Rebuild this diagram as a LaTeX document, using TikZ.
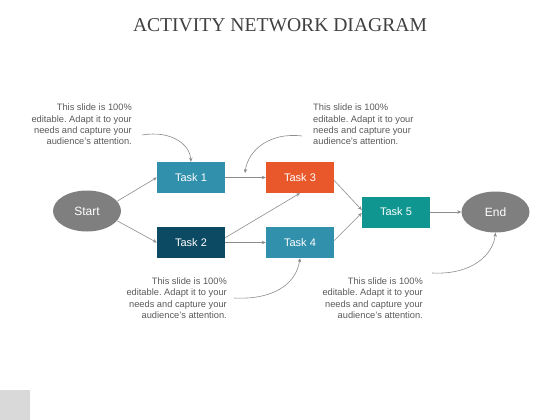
\documentclass[tikz,border=0pt]{standalone}
\usepackage{fontspec}
\setmainfont{Liberation Sans}
\newfontfamily\titlefont{Liberation Serif}
\usetikzlibrary{arrows.meta,shapes.geometric}
\frenchspacing
\definecolor{titlegray}{HTML}{404040}
\definecolor{notegray}{HTML}{595959}
\definecolor{linegray}{HTML}{8C8C8C}
\definecolor{ovalgray}{HTML}{7F7F7F}
\definecolor{taskblue}{HTML}{3190AC}
\definecolor{tasknavy}{HTML}{0C4A63}
\definecolor{taskorange}{HTML}{E8582A}
\definecolor{taskteal}{HTML}{0F9690}
\definecolor{cornergray}{HTML}{D9D9D9}
\tikzset{
  taskbox/.style={rectangle, minimum width=68pt, minimum height=31pt, inner sep=0pt, text=white, font=\fontsize{11}{13}\selectfont},
  oval/.style={ellipse, fill=ovalgray, minimum width=68pt, minimum height=41pt, inner sep=0pt, text=white, font=\fontsize{12}{14}\selectfont},
  conn/.style={draw=linegray, line width=0.6pt, -{Stealth[length=4pt,width=3.5pt]}},
  note/.style={text=notegray, font=\fontsize{9.3}{11.3}\selectfont, inner sep=0pt},
}
\begin{document}
\begin{tikzpicture}[x=1pt,y=-1pt]
\useasboundingbox (0,0) rectangle (560,420);
\fill[cornergray] (0,390) rectangle (30,420);
\node[text=titlegray, font=\titlefont\fontsize{19.6}{22}\selectfont] (title) at (280,25.5) {ACTIVITY NETWORK DIAGRAM};

\node[oval] (start) at (87,211) {Start};
\node[oval] (end) at (495.5,212) {End};
\node[taskbox, fill=taskblue] (t1) at (191,177.5) {Task 1};
\node[taskbox, fill=tasknavy] (t2) at (191,242.5) {Task 2};
\node[taskbox, fill=taskorange] (t3) at (300,177.5) {Task 3};
\node[taskbox, fill=taskblue] (t4) at (300,242.5) {Task 4};
\node[taskbox, fill=taskteal] (t5) at (396,212) {Task 5};

\node[note, align=right, anchor=north east] (n1) at (132,104) {This slide is 100\%\\editable. Adapt it to your\\needs and capture your\\audience's attention.};
\node[note, align=left, anchor=north west] (n2) at (313,104) {This slide is 100\%\\editable. Adapt it to your\\needs and capture your\\audience's attention.};
\node[note, align=right, anchor=north east] (n3) at (227,277.5) {This slide is 100\%\\editable. Adapt it to your\\needs and capture your\\audience's attention.};
\node[note, align=right, anchor=north east] (n4) at (423,277.5) {This slide is 100\%\\editable. Adapt it to your\\needs and capture your\\audience's attention.};

\coordinate (c1) at (142,135);
\coordinate (c2) at (302,136);
\coordinate (c3) at (234,298);
\coordinate (c4) at (432,273);

\draw[conn] (start.18) -- (t1.west);
\draw[conn] (start.-18) -- (t2.west);
\draw[conn] (t1.east) -- (t3.west);
\draw[conn] (t2.east) -- (t4.west);
\draw[conn] (t2.8) -- (t3.south);
\draw[conn] ([yshift=-3pt]t3.east) -- ([yshift=2pt]t5.west);
\draw[conn] ([yshift=2pt]t4.east) -- ([yshift=-1pt]t5.west);
\draw[conn] (t5.east) -- (end.west);

\draw[conn] (c1) .. controls (172,130) and (190,145) .. (t1.north);
\draw[conn] (c2) .. controls (270,132) and (248,150) .. (245,173);
\draw[conn] (c3) .. controls (272,300) and (296,285) .. (t4.south);
\draw[conn] (c4) .. controls (472,275) and (493,255) .. (end.south);
\end{tikzpicture}
\end{document}
